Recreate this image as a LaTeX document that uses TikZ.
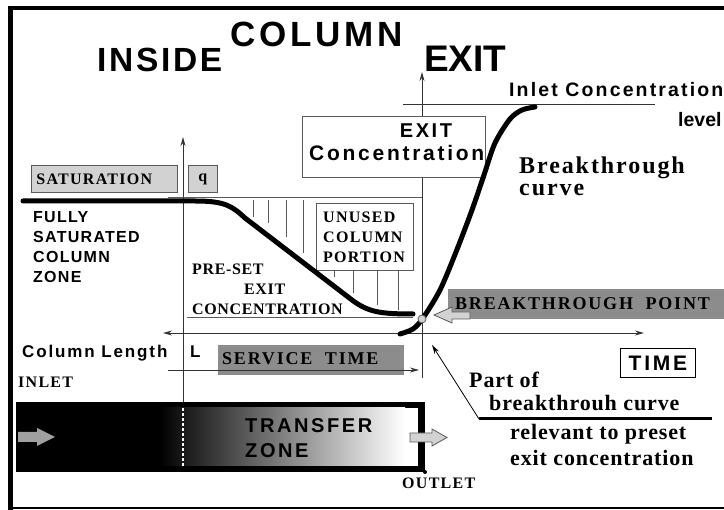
\documentclass[tikz,border=0pt]{standalone}
\usepackage{fontspec}
\setmainfont{Liberation Serif}
\setsansfont{Liberation Sans}
\newfontfamily\hvsp[LetterSpace=8]{Liberation Sans}
\newfontfamily\hvmid[LetterSpace=11]{Liberation Sans}
\newfontfamily\hvwide[LetterSpace=13]{Liberation Sans}
\newfontfamily\trsp[LetterSpace=4]{Liberation Serif}
\newfontfamily\trmid[LetterSpace=8]{Liberation Serif}
\newfontfamily\trwide[LetterSpace=10]{Liberation Serif}
\usepackage{tikz}
\usetikzlibrary{
    arrows.meta
}
\definecolor{lightfill}{HTML}{D2D2D2}
\definecolor{darkfill}{HTML}{8C8C8C}
\definecolor{linegray}{HTML}{5A5A5A}
\definecolor{axisgray}{HTML}{333333}
\definecolor{arrowgray}{HTML}{A0A0A0}

\begin{document}
\begin{tikzpicture}[x=1pt, y=-1pt, >={Stealth[length=9pt,width=5pt]},
    axisline/.style={draw=axisgray, line width=0.9pt},
    hatchline/.style={draw=linegray, line width=0.8pt},
    thickcurve/.style={line width=5pt, line cap=round, line join=round},
    lightbox/.style={draw=linegray, fill=lightfill, line width=0.8pt, inner sep=0pt},
    darkbox/.style={fill=darkfill, inner sep=0pt},
    lbl/.style args={#1/#2/#3}{font=#1\bfseries\fontsize{#2}{#3}\selectfont, inner sep=0pt, align=left, anchor=base west}]
            \useasboundingbox (0,0) rectangle (724,510);

            % frame
            \draw[line width=4.5pt] (10.5,512) -- (10.5,8) -- (730,8);
            \draw[line width=2pt] (10,508.5) -- (730,508.5);

            % axes and level lines
            \coordinate (colbase) at (183,402);
            \coordinate (coltop) at (183,137);
            \coordinate (exitbase) at (422,378);
            \coordinate (exittop) at (422,72);
            \coordinate (timeleft) at (163,333);
            \coordinate (timeright) at (644,333);
            \coordinate (levelleft) at (403,104);
            \coordinate (levelright) at (655,104);
            \coordinate (satleft) at (168,197);
            \coordinate (satright) at (422,197);
            \coordinate (presetleft) at (187,317);
            \coordinate (presetright) at (413,317);

            \draw[axisline, ->] (colbase) -- (coltop);
            \draw[axisline, ->] (exitbase) -- (exittop);
            \draw[axisline, <->] (timeleft) -- (timeright);
            \draw[axisline] (levelleft) -- (levelright);
            \draw[hatchline] (satleft) -- (satright);
            \draw[hatchline] (presetleft) -- (presetright);

            % unused part of the column
            \draw[hatchline] (253,200) -- (253,217);
            \draw[hatchline] (268,200) -- (268,223);
            \draw[hatchline] (286,200) -- (286,237);
            \draw[hatchline] (303,200) -- (303,253);
            \draw[hatchline] (334,270) -- (334,277);
            \draw[hatchline] (353,270) -- (353,293);
            \draw[hatchline] (377,270) -- (377,305);
            \draw[hatchline] (398,270) -- (398,310);

            % boxes
            \node[lightbox, minimum width=146, minimum height=27, text width=136, inner xsep=5pt, anchor=north west, align=left,
                  font=\trmid\bfseries\fontsize{16}{16}\selectfont] (satbox) at (31,165) {SATURATION};
            \node[lightbox, minimum width=29, minimum height=27, anchor=north west,
                  font=\trmid\bfseries\fontsize{16}{16}\selectfont] (qbox) at (188,165) {q};
            \node[draw=linegray, fill=white, line width=0.8pt, minimum width=183, minimum height=61, anchor=north west] (exitbox) at (302,116) {};
            \node[draw=linegray, fill=white, line width=0.8pt, minimum width=97, minimum height=67, anchor=north west] (unusedbox) at (316,203) {};
            \node[darkbox, minimum width=290, minimum height=30, anchor=north west] (bpbox) at (448,289) {};
            \node[darkbox, minimum width=186, minimum height=30, anchor=north west] (stbox) at (218,345) {};
            \node[draw=black, fill=white, line width=0.8pt, minimum width=75, minimum height=29, anchor=north west] (timebox) at (620,348) {};

            \coordinate (stleft) at (168,370);
            \coordinate (stright) at (419,370);
            \draw[axisline, ->] (stleft) -- (stright);

            % saturation and breakthrough curves
            \draw[thickcurve] (23,201) -- (195,201) .. controls (225,201) and (232,206) .. (245,218)
                -- (352,300) .. controls (368,312) and (380,314) .. (413,314);
            \draw[thickcurve] plot[smooth] coordinates {(400,334) (413,329) (423,318) (440,290) (456,252) (472,210) (484,175) (495,143) (510,119) (522,110) (535,107)};
            \node[circle, draw=linegray, fill=lightfill, line width=0.8pt, minimum size=8, inner sep=0pt] (bpoint) at (422,319) {};
            \draw[draw=linegray, fill=lightfill, line width=0.8pt] (434,315) -- (452,307) -- (452,312) -- (470,312) -- (470,319) -- (452,319) -- (452,323) -- cycle;

            % column
            \fill (16,402) rectangle (425,472);
            \fill[white] (159,408) rectangle (418,466);
            \shade[left color=black, right color=white] (159,408) rectangle (405,466);
            \draw[white, line width=2.5pt, dash pattern=on 3pt off 2pt] (183,408) -- (183,466);
            \fill (425,472) circle (2);
            \fill[arrowgray] (18,432) -- (37,432) -- (37,428) -- (55,437) -- (37,446) -- (37,442) -- (18,442) -- cycle;
            \draw[draw=linegray, fill=lightfill, line width=0.8pt] (410,433) -- (432,433) -- (432,429) -- (447,437.5) -- (432,446) -- (432,442) -- (410,442) -- cycle;

            % pointer to the relevant part
            \coordinate (partfoot) at (479,419);
            \coordinate (parttip) at (432,345);
            \coordinate (partend) at (712,419);
            \draw[line width=0.8pt, ->] (partfoot) -- (parttip);
            \draw[line width=3pt] (partfoot) -- (partend);

            % labels
            \node[lbl=\hvsp/33.5/40] (insidelbl) at (97,72) {INSIDE};
            \node[lbl=\hvmid/35/40] (columnlbl) at (230,47) {COLUMN};
            \node[lbl=\sffamily/37/40] (exitlbl) at (424,72) {EXIT};
            \node[lbl=\hvmid/19.5/31] (inletlbl) at (509,97) {Inlet Concentration};
            \node[lbl=\sffamily/19.5/31] (levellbl) at (678,127) {level};
            \node[lbl=\hvwide/20/20, anchor=base] (exitconc) at (426,138) {EXIT};
            \node[lbl=\hvwide/21/20] (conclbl) at (309,161) {Concentration};
            \node[lbl=\trmid/24/22] (curvelbl) at (519,196) {Breakthrough\\curve};
            \node[lbl=\hvsp/16/20] (fullylbl) at (33,283) {FULLY\\SATURATED\\COLUMN\\ZONE};
            \node[lbl=\trmid/16/20] (unusedlbl) at (323,263) {UNUSED\\COLUMN\\PORTION};
            \node[lbl=\trsp/16/20] (presetlbl) at (192,315) {PRE-SET\\\hspace*{52pt}EXIT\\CONCENTRATION};
            \node[lbl=\trwide/18/20] (bplbl) at (455,310) {BREAKTHROUGH\ \ POINT};
            \node[lbl=\hvmid/17/20] (lengthlbl) at (22,358) {Column Length};
            \node[lbl=\hvmid/17/20] (llbl) at (190,358) {L};
            \node[lbl=\trwide/18/20] (stlbl) at (222,365) {SERVICE\ \ TIME};
            \node[lbl=\hvwide/21/20, anchor=center] (timelbl) at (timebox.center) {TIME};
            \node[lbl=\trmid/16/20] (inlettxt) at (18,388) {INLET};
            \node[lbl=\hvwide/20/25] (transferlbl) at (245,458) {TRANSFER\\ZONE};
            \node[lbl=\trmid/16/20] (outletlbl) at (402,489) {OUTLET};
            \node[lbl=\trsp/22/23] (partlbl) at (469,411) {Part of\\\hspace*{20pt}breakthrouh curve};
            \node[lbl=\trsp/22/26] (relevlbl) at (510,466) {relevant to preset\\exit concentration};
\end{tikzpicture}
\end{document}
